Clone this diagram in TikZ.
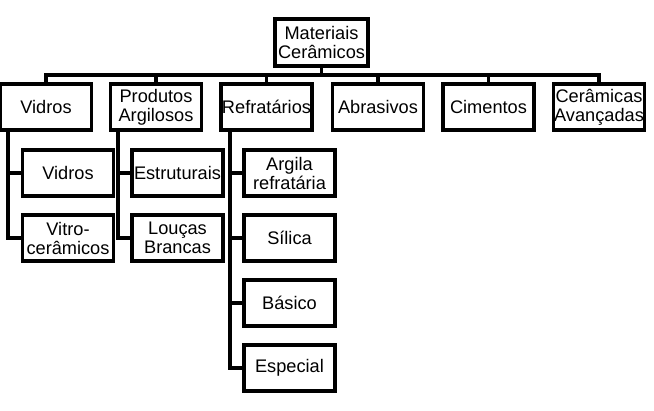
\documentclass[tikz,border=0pt]{standalone}
\usepackage{fontspec}
\setmainfont{Liberation Sans}
\begin{document}
\begin{tikzpicture}[x=1pt,y=-1pt,
  box/.style={draw=black,line width=3.2pt,minimum width=91pt,minimum height=46pt,inner sep=1pt,align=center,
    font=\fontsize{18.2}{19}\selectfont},
  conn/.style={draw=black,line width=3.2pt}]
\useasboundingbox (0,0) rectangle (654,411);
\node[box,minimum width=93pt,minimum height=47pt] (top) at (321.5,42.5) {Materiais\\Cerâmicos};
\node[box] (vid) at (46,107) {Vidros};
\node[box] (pro) at (156,107) {Produtos\\Argilosos};
\node[box] (ref) at (266.5,107) {Refratários};
\node[box] (abr) at (378,107) {Abrasivos};
\node[box] (cim) at (488.5,107) {Cimentos};
\node[box] (cav) at (599,107) {Cerâmicas\\Avançadas};
\node[box] (vid1) at (68,173) {Vidros};
\node[box] (vid2) at (68,238) {Vitro-\\cerâmicos};
\node[box] (pro1) at (177.5,173) {Estruturais};
\node[box] (pro2) at (177.5,238) {Louças\\Brancas};
\node[box] (ref1) at (289.5,173) {Argila\\refratária};
\node[box] (ref2) at (289.5,238) {Sílica};
\node[box] (ref3) at (289.5,303) {Básico};
\node[box] (ref4) at (289.5,368) {Especial};
\coordinate (bus) at (0,75);
\draw[conn] (top.south) -- (top.south |- bus);
\draw[conn] (vid.north) |- (bus -| cav.north) -- (cav.north);
\foreach \n in {pro,ref,abr,cim} \draw[conn] (\n.north) -- (\n.north |- bus);
\coordinate (vb) at (8,0);
\coordinate (pb) at (118,0);
\coordinate (rb) at (230,0);
\draw[conn] (vid.south -| vb) |- (vid2.west);
\draw[conn] (vid1.west -| vb) -- (vid1.west);
\draw[conn] (pro.south -| pb) |- (pro2.west);
\draw[conn] (pro1.west -| pb) -- (pro1.west);
\draw[conn] (ref.south -| rb) |- (ref4.west);
\draw[conn] (ref1.west -| rb) -- (ref1.west);
\draw[conn] (ref2.west -| rb) -- (ref2.west);
\draw[conn] (ref3.west -| rb) -- (ref3.west);
\end{tikzpicture}
\end{document}
